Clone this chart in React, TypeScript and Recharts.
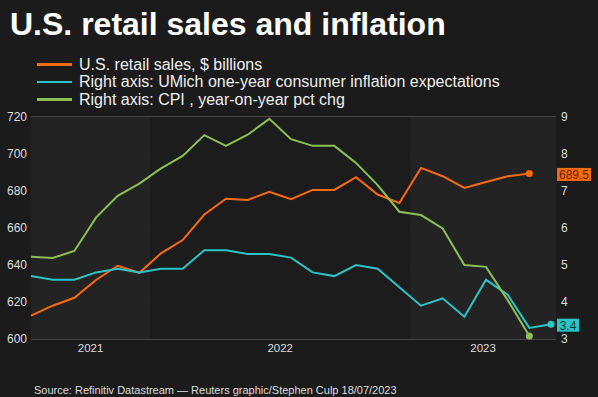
import React from "react";
import { ComposedChart, Line, XAxis, YAxis, CartesianGrid, ReferenceArea } from "recharts";

// Jul 2021 .. Jul 2023, monthly
const months = [
  "Jul 21", "Aug 21", "Sep 21", "Oct 21", "Nov 21", "Dec 21",
  "Jan 22", "Feb 22", "Mar 22", "Apr 22", "May 22", "Jun 22",
  "Jul 22", "Aug 22", "Sep 22", "Oct 22", "Nov 22", "Dec 22",
  "Jan 23", "Feb 23", "Mar 23", "Apr 23", "May 23", "Jun 23", "Jul 23",
];
const retailSales = [
  612.6, 618, 622.3, 631.9, 639.6, 635.8,
  646.3, 653.5, 667.3, 675.8, 675.2, 679.5,
  675.6, 680.6, 680.6, 687.5, 678.1, 673.5,
  692.5, 688, 681.7, 684.9, 688, 689.5, null,
];
const umichExpect = [
  4.7, 4.6, 4.6, 4.8, 4.9, 4.8,
  4.9, 4.9, 5.4, 5.4, 5.3, 5.3,
  5.2, 4.8, 4.7, 5.0, 4.9, 4.4,
  3.9, 4.1, 3.6, 4.6, 4.2, 3.3, 3.4,
];
const cpiYoY = [
  5.22, 5.19, 5.38, 6.28, 6.87, 7.2,
  7.61, 7.95, 8.51, 8.22, 8.52, 8.95,
  8.4, 8.22, 8.22, 7.76, 7.16, 6.44,
  6.35, 5.99, 5.0, 4.95, 4.05, 3.08, null,
];
const years = ["2021", "2022", "2023"];
const yearStart = [0, 5.5, 17.5];
const yearEnd = [5.5, 17.5, 24.23];
const leftTicks = [600, 620, 640, 660, 680, 700, 720];
const rightTicks = [3, 4, 5, 6, 7, 8, 9];

const ORANGE = "#ff6a0d";
const TEAL = "#2cc4c8";
const GREEN = "#8cc152";
const BG = "#1b1b1b";
const PLOT_RIGHT = 556;

const data = months.map((m, i) => ({
  i,
  month: m,
  retail: retailSales[i],
  umich: umichExpect[i],
  cpi: cpiYoY[i],
}));

const yearTicks = years.map((_, k) => (yearStart[k] + yearEnd[k]) / 2);

function lastIdx(arr: (number | null)[]) {
  let k = arr.length - 1;
  while (k >= 0 && arr[k] == null) k--;
  return k;
}

const endDot = (color: string, last: number, box?: { text: string; w: number; ink: string }) =>
  (props: any) => {
    const { cx, cy, index } = props;
    if (index !== last || cx == null) return <g key={`d${index}`} />;
    return (
      <g key={`d${index}`}>
        <circle cx={cx} cy={cy} r={3.5} fill={color} />
        {box && (
          <g>
            <rect x={PLOT_RIGHT + 1} y={cy - 5.5} width={box.w} height={13} fill={color} />
            <text
              x={PLOT_RIGHT + 1 + box.w / 2}
              y={cy + 5.5}
              textAnchor="middle"
              fontSize={12}
              fill={box.ink}
              fontFamily="Liberation Sans, Arial, sans-serif"
            >
              {box.text}
            </text>
          </g>
        )}
      </g>
    );
  };

const legendItems = [
  { color: ORANGE, label: "U.S. retail sales, $ billions" },
  { color: TEAL, label: "Right axis: UMich one-year consumer inflation expectations" },
  { color: GREEN, label: "Right axis: CPI , year-on-year pct chg" },
];

export default function App() {
  const rLast = lastIdx(retailSales);
  const uLast = lastIdx(umichExpect);
  const cLast = lastIdx(cpiYoY);
  const font = "Liberation Sans, Arial, sans-serif";
  return (
    <div
      style={{
        position: "absolute",
        left: 0,
        top: 0,
        width: 598,
        height: 397,
        background: BG,
        fontFamily: font,
        overflow: "hidden",
      }}
    >
      <div
        style={{
          position: "absolute",
          left: 10,
          top: 8,
          fontSize: 32,
          lineHeight: "32px",
          fontWeight: 700,
          color: "#fff",
          whiteSpace: "nowrap",
        }}
      >
        U.S. retail sales and inflation
      </div>
      {legendItems.map((it, k) => (
        <div
          key={it.label}
          style={{
            position: "absolute",
            left: 37,
            top: 55.5 + k * 17.6,
            height: 18,
            display: "flex",
            alignItems: "center",
            fontSize: 16,
            lineHeight: "18px",
            color: "#eee",
            whiteSpace: "nowrap",
          }}
        >
          <span style={{ display: "inline-block", width: 35, height: 2.5, background: it.color, marginRight: 7 }} />
          {it.label}
        </div>
      ))}
      <div style={{ position: "absolute", left: 0, top: 0 }}>
        <ComposedChart
          width={598}
          height={397}
          data={data}
          margin={{ top: 117, right: 0, bottom: 28, left: 0 }}
        >
          {years.map((y, k) => (
            <ReferenceArea
              key={y}
              x1={yearStart[k]}
              x2={yearEnd[k]}
              yAxisId="left"
              fill={k === 1 ? "#1c1c1c" : "#232323"}
              fillOpacity={1}
              stroke="none"
              ifOverflow="hidden"
            />
          ))}
          <CartesianGrid yAxisId="left" vertical={false} stroke="#454545" strokeWidth={2} />
          <XAxis
            dataKey="i"
            type="number"
            domain={[0, 24.23]}
            ticks={yearTicks}
            tickFormatter={(v: number) => years[yearTicks.indexOf(v)] ?? ""}
            axisLine={false}
            tickLine={false}
            tickSize={0}
            tickMargin={5}
            height={30}
            tick={{ fill: "#ddd", fontSize: 11.5, fontFamily: font }}
            interval={0}
          />
          <YAxis
            yAxisId="left"
            domain={[600, 720]}
            ticks={leftTicks}
            width={31}
            axisLine={false}
            tickLine={false}
            tickSize={0}
            tickMargin={4}
            tick={{ fill: "#ddd", fontSize: 12, fontFamily: font }}
          />
          <YAxis
            yAxisId="right"
            orientation="right"
            domain={[3, 9]}
            ticks={rightTicks}
            width={42}
            axisLine={false}
            tickLine={false}
            tickSize={0}
            tickMargin={5}
            tick={{ fill: "#ddd", fontSize: 12, fontFamily: font }}
          />
          <Line
            yAxisId="left"
            dataKey="retail"
            stroke={ORANGE}
            strokeWidth={2}
            type="linear"
            dot={endDot(ORANGE, rLast, { text: retailSales[rLast]!.toFixed(1), w: 34, ink: "#5a2400" })}
            activeDot={false}
            isAnimationActive={false}
          />
          <Line
            yAxisId="right"
            dataKey="umich"
            stroke={TEAL}
            strokeWidth={2}
            type="linear"
            dot={endDot(TEAL, uLast, { text: umichExpect[uLast]!.toFixed(1), w: 22, ink: "#0c3a3c" })}
            activeDot={false}
            isAnimationActive={false}
          />
          <Line
            yAxisId="right"
            dataKey="cpi"
            stroke={GREEN}
            strokeWidth={2}
            type="linear"
            dot={endDot(GREEN, cLast)}
            activeDot={false}
            isAnimationActive={false}
          />
        </ComposedChart>
      </div>
      <div
        style={{
          position: "absolute",
          left: 34,
          top: 384,
          fontSize: 11,
          lineHeight: "12px",
          color: "#ddd",
          whiteSpace: "nowrap",
        }}
      >
        Source: Refinitiv Datastream — Reuters graphic/Stephen Culp 18/07/2023
      </div>
    </div>
  );
}
